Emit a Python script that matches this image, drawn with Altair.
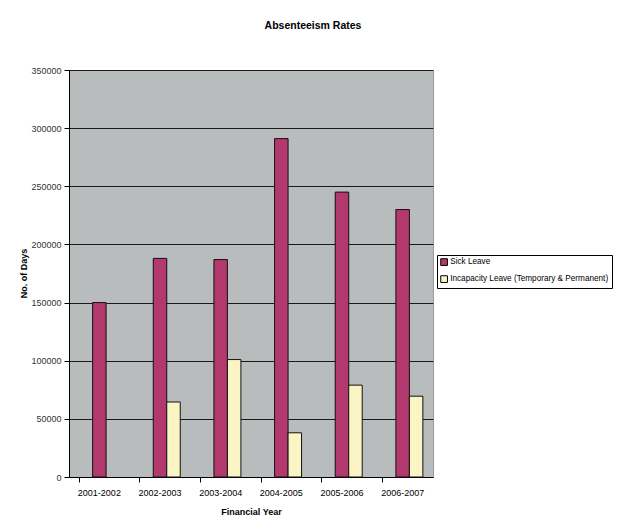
import altair as alt
import pandas as pd

years = ["2001-2002", "2002-2003", "2003-2004", "2004-2005", "2005-2006", "2006-2007"]
sick_leave = [150000, 188000, 187000, 291000, 245000, 230000]
incapacity_leave = [0, 64500, 101000, 38000, 79000, 69500]
series = ["Sick Leave", "Incapacity Leave (Temporary & Permanent)"]
colors = ["#b3386e", "#fbf5c6"]

rows = []
for y, s, i in zip(years, sick_leave, incapacity_leave):
    rows.append({"year": y, "series": series[0], "days": s})
    if i > 0:
        rows.append({"year": y, "series": series[1], "days": i})
df = pd.DataFrame(rows)

FONT = "Liberation Sans, Arial, sans-serif"

bars = alt.Chart(df).mark_bar(stroke="#111111", strokeWidth=1).encode(
    x=alt.X("year:N", sort=years,
            scale=alt.Scale(paddingInner=0.333, paddingOuter=0.167),
            axis=alt.Axis(title="Financial Year", labelAngle=0, bandPosition=0,
                          ticks=True, tickSize=5, tickColor="#000000",
                          domainColor="#000000", labelPadding=6,
                          titlePadding=10, labelFontSize=9, titleFontSize=9,
                          labelFont=FONT, titleFont=FONT, labelColor="#000000",
                          titleColor="#000000", grid=False)),
    xOffset=alt.XOffset("series:N",
                        scale=alt.Scale(domain=["_pad", series[0], series[1]], paddingInner=0, paddingOuter=0)),
    y=alt.Y("days:Q",
            scale=alt.Scale(domain=[0, 350000], nice=False),
            axis=alt.Axis(title="No. of Days", values=list(range(0, 350001, 50000)), format="d",
                          tickSize=5, tickColor="#000000", domainColor="#000000",
                          gridColor="#1a1a1a", gridWidth=1, labelPadding=3,
                          labelFontSize=9, titleFontSize=9, labelFont=FONT, titleFont=FONT,
                          labelColor="#333333", titleColor="#000000",
                          titleX=-46, titleY=203, titleAngle=-90, titleBaseline="middle")),
    color=alt.Color("series:N", scale=alt.Scale(domain=series, range=colors),
                    legend=alt.Legend(title=None, orient="none", legendX=368, legendY=185,
                                      symbolType="square", symbolSize=45,
                                      symbolStrokeColor="#000000", symbolStrokeWidth=1,
                                      labelFont=FONT, labelFontSize=8.2, labelColor="#000000",
                                      labelLimit=0, rowPadding=5, padding=3,
                                      strokeColor="#000000", fillColor="#ffffff", labelOffset=2)),
)

chart = bars.properties(
    width=364, height=407,
    autosize=alt.AutoSizeParams(type="none"),
    padding={"left": 69, "top": 70, "right": 185, "bottom": 54},
    title=alt.TitleParams("Absenteeism Rates", font=FONT, fontSize=10.5, fontWeight="bold",
                          anchor="middle", dx=62, offset=35, color="#000000"),
    background="#ffffff",
).configure_view(fill="#b8bcbd", stroke="#9a9a9a", strokeWidth=1)

chart.save("out.html", embed_options={"renderer": "svg", "actions": False})
